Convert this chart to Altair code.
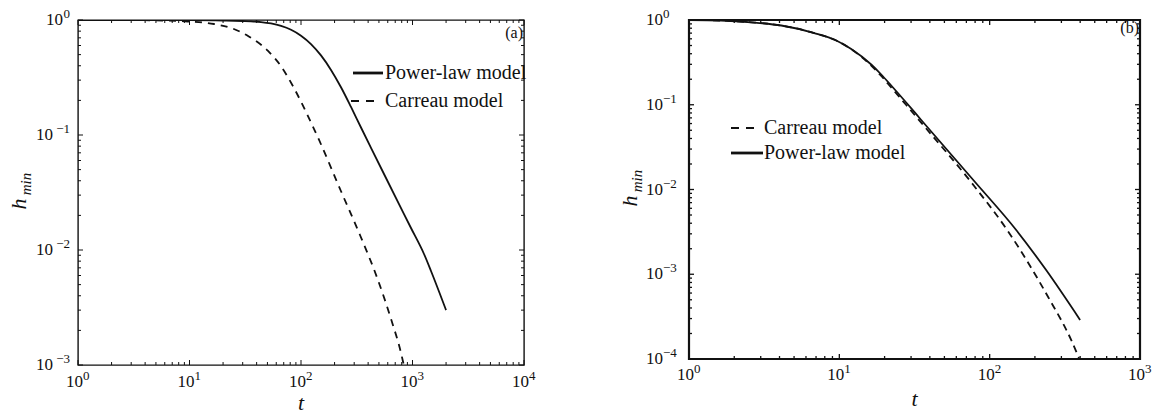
import altair as alt
import pandas as pd

# ---------------- data ----------------
# panel (a)
a_power_t = [1, 10, 20, 30, 35.6, 43.8, 53.8, 66.2, 81.4, 100, 122.9, 151.1, 185.8, 228.4,
             280.8, 345.2, 424.4, 555.1, 969.4, 1268, 1465, 2000]
a_power_h = [1.0, 0.997, 0.990, 0.980, 0.974, 0.960, 0.933, 0.889, 0.823, 0.731, 0.618, 0.492,
             0.368, 0.260, 0.1753, 0.1162, 0.0774, 0.0458, 0.01553, 0.00923, 0.00657, 0.0030]
a_carr_t = [1, 2.43, 4.51, 9.7, 16.6, 25, 33.5, 50.6, 66, 86.5, 115.5, 145.2, 228, 338, 490,
            642, 789, 835]
a_carr_h = [1.0, 0.998, 0.994, 0.970, 0.923, 0.835, 0.726, 0.538, 0.398, 0.256, 0.146, 0.0905,
            0.0326, 0.0135, 0.00548, 0.00251, 0.00127, 0.001]
# panel (b)
b_power_t = [1, 1.64, 2.60, 4.11, 6.81, 9.54, 12.0, 16.3, 19.0, 22.13, 27.85, 35.04, 78.85,
             150.1, 237.5, 399.6]
b_power_h = [1.0, 0.986, 0.939, 0.861, 0.702, 0.573, 0.455, 0.2985, 0.2275, 0.1687, 0.1063,
             0.0661, 0.0126, 0.00333, 0.00112, 0.000289]
b_carr_t = [1, 1.64, 2.60, 4.11, 6.81, 9.54, 12.0, 16.3, 19.0, 22.13, 27.85, 36.13, 78.85,
            130.7, 244.9, 348.4, 395]
b_carr_h = [1.0, 0.986, 0.939, 0.861, 0.702, 0.573, 0.452, 0.2904, 0.2184, 0.1598, 0.0993,
            0.0577, 0.0110, 0.00333, 0.000539, 0.000168, 0.0001]

# axes: decade exponents
a_x_exp = [0, 1, 2, 3, 4]
a_y_exp = [-3, -2, -1, 0]
b_x_exp = [0, 1, 2, 3]
b_y_exp = [-4, -3, -2, -1, 0]
minor_mult = [2, 3, 4, 5, 6, 7, 8, 9]

legend_a = ["Power-law model", "Carreau model"]
legend_b = ["Carreau model", "Power-law model"]
tags = ["(a)", "(b)"]
x_title = "t"
y_title = ["h", "min"]

FONT = "'Liberation Serif', 'Times New Roman', Tinos, 'DejaVu Serif', serif"
INK = "#111111"


def sup(e):
    return str(e).replace("-", "\u2212")


def frame_layers(W, H, xs, ys, x_exp, y_exp, tick_w, maj, mnr, xlab_y, ylab_mode):
    xmaj = pd.DataFrame({"v": [10.0 ** e for e in x_exp], "e": [sup(e) for e in x_exp]})
    xmin = pd.DataFrame({"v": [m * 10.0 ** e for e in x_exp[:-1] for m in minor_mult]})
    ymaj = pd.DataFrame({"v": [10.0 ** e for e in y_exp], "e": [sup(e) for e in y_exp]})
    ymin = pd.DataFrame({"v": [m * 10.0 ** e for e in y_exp[:-1] for m in minor_mult]})

    def X():
        return alt.X("v:Q", scale=xs, axis=None)

    def Y():
        return alt.Y("v:Q", scale=ys, axis=None)

    rule = dict(color=INK, strokeWidth=tick_w)
    out = []
    for df, L in ((xmaj, maj), (xmin, mnr)):
        out.append(alt.Chart(df).mark_rule(**rule).encode(x=X(), y=alt.value(H), y2=alt.value(H - L)))
        out.append(alt.Chart(df).mark_rule(**rule).encode(x=X(), y=alt.value(0), y2=alt.value(L)))
    for df, L in ((ymaj, maj), (ymin, mnr)):
        out.append(alt.Chart(df).mark_rule(**rule).encode(y=Y(), x=alt.value(0), x2=alt.value(L)))
        out.append(alt.Chart(df).mark_rule(**rule).encode(y=Y(), x=alt.value(W), x2=alt.value(W - L)))

    base = dict(font=FONT, color=INK, baseline="middle")
    # x tick labels
    out.append(alt.Chart(xmaj).mark_text(text="10", fontSize=17, align="right", dx=5, **base)
               .encode(x=X(), y=alt.value(xlab_y)))
    out.append(alt.Chart(xmaj).mark_text(fontSize=13, align="left", dx=5, dy=-6, **base)
               .encode(x=X(), y=alt.value(xlab_y), text="e:N"))
    # y tick labels
    if ylab_mode == "right":
        out.append(alt.Chart(ymaj).mark_text(fontSize=13, align="right", dy=-6, **base)
                   .encode(y=Y(), x=alt.value(-8), text="e:N"))
        out.append(alt.Chart(ymaj).transform_filter("datum.v == 1")
                   .mark_text(text="10", fontSize=17, align="right", **base)
                   .encode(y=Y(), x=alt.value(-15)))
        out.append(alt.Chart(ymaj).transform_filter("datum.v != 1")
                   .mark_text(text="10", fontSize=17, align="right", **base)
                   .encode(y=Y(), x=alt.value(-25)))
    else:
        out.append(alt.Chart(ymaj).mark_text(text="10", fontSize=17, align="right", **base)
                   .encode(y=Y(), x=alt.value(-26)))
        out.append(alt.Chart(ymaj).mark_text(fontSize=13, align="left", dy=-6, **base)
                   .encode(y=Y(), x=alt.value(-26), text="e:N"))
    return out


def curve_layer(t, h, xs, ys, dash):
    df = pd.DataFrame({"t": t, "h": h})
    kw = dict(color=INK, strokeWidth=1.8, clip=True, interpolate="monotone")
    if dash:
        kw["strokeDash"] = dash
    return alt.Chart(df).mark_line(**kw).encode(
        x=alt.X("t:Q", scale=xs, axis=None), y=alt.Y("h:Q", scale=ys, axis=None))


one = pd.DataFrame({"a": [0]})


def txt(s, x, y, size, align="left", style="normal", angle=None, baseline="middle"):
    kw = dict(text=s, font=FONT, fontSize=size, color=INK, align=align, baseline=baseline,
              fontStyle=style)
    if angle is not None:
        kw["angle"] = angle
    return alt.Chart(one).mark_text(**kw).encode(x=alt.value(x), y=alt.value(y))


def seg(x1, x2, y, w, dash=None):
    kw = dict(color=INK, strokeWidth=w)
    if dash:
        kw["strokeDash"] = dash
    return alt.Chart(one).mark_rule(**kw).encode(x=alt.value(x1), x2=alt.value(x2), y=alt.value(y))


# ---------------- panel (a) ----------------
WA, HA = 446, 345
xsa = alt.Scale(type="log", domain=[1, 1e4], nice=False)
ysa = alt.Scale(type="log", domain=[1e-3, 1], nice=False)
layers_a = [
    alt.Chart(one).mark_rule(opacity=0).encode(x=alt.value(-77), x2=alt.value(-77),
                                                 y=alt.value(-19), y2=alt.value(-19)),
    curve_layer(a_carr_t, a_carr_h, xsa, ysa, [7, 6]),
    curve_layer(a_power_t, a_power_h, xsa, ysa, None),
]
layers_a += frame_layers(WA, HA, xsa, ysa, a_x_exp, a_y_exp, 1.0, 5, 3, HA + 17, "right")
layers_a += [
    seg(275, 305, 53, 2.8),
    txt(legend_a[0], 307, 53, 20),
    seg(273, 296, 81, 1.8, [8, 7]),
    txt(legend_a[1], 307, 81, 20),
    txt(tags[0], WA - 1, 13, 16, align="right"),
    txt(x_title, WA / 2, HA + 38, 22, align="center", style="italic"),
    txt(y_title[0], -52, 184, 22, align="center", style="italic", angle=270, baseline="alphabetic"),
    txt(y_title[1], -47, 164, 15, align="center", style="italic", angle=270, baseline="alphabetic"),
]
panel_a = alt.layer(*layers_a).properties(
    width=WA, height=HA, view=alt.ViewBackground(stroke=INK, strokeWidth=1.4))

# ---------------- panel (b) ----------------
WB, HB = 451, 339
xsb = alt.Scale(type="log", domain=[1, 1e3], nice=False)
ysb = alt.Scale(type="log", domain=[1e-4, 1], nice=False)
layers_b = [
    curve_layer(b_carr_t, b_carr_h, xsb, ysb, [7, 5]),
    curve_layer(b_power_t, b_power_h, xsb, ysb, None),
]
layers_b += frame_layers(WB, HB, xsb, ysb, b_x_exp, b_y_exp, 1.3, 5, 3, HB + 16, "left")
layers_b += [
    seg(42, 65, 108, 1.8, [8, 7]),
    txt(legend_b[0], 75, 108, 20),
    seg(42, 74, 133, 2.8),
    txt(legend_b[1], 75, 133, 20),
    txt(tags[1], WB - 1, 8, 16, align="right"),
    txt(x_title, WB / 2, HB + 40, 22, align="center", style="italic"),
    txt(y_title[0], -52, 181, 22, align="center", style="italic", angle=270, baseline="alphabetic"),
    txt(y_title[1], -47, 161, 15, align="center", style="italic", angle=270, baseline="alphabetic"),
]
panel_b = alt.layer(*layers_b).properties(
    width=WB, height=HB, view=alt.ViewBackground(stroke=INK, strokeWidth=2.2))

chart = alt.hconcat(panel_a, panel_b, spacing=165, bounds="flush").properties(
    padding=0, background="white")

chart.save("out.html", embed_options={"renderer": "svg", "actions": False})
